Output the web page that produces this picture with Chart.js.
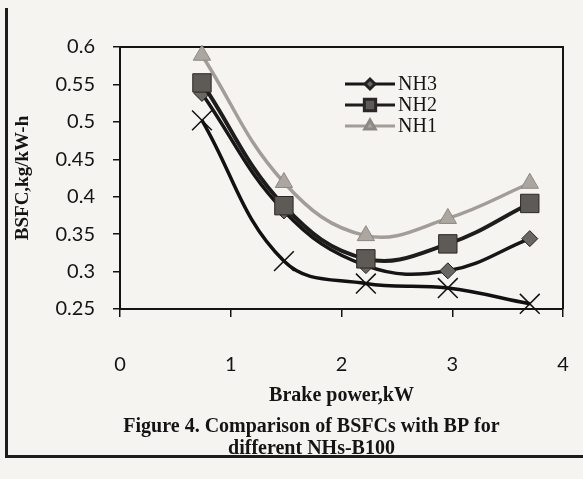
<!DOCTYPE html>
<html>
<head>
<meta charset="utf-8">
<script src="https://cdn.jsdelivr.net/npm/chart.js@4.4.1/dist/chart.umd.min.js"></script>
<style>
  html, body { margin: 0; padding: 0; background: #f6f4f1; overflow: hidden; }
  #wrap { position: relative; width: 583px; height: 479px; }
  #page { position: absolute; left: 5px; top: 8px; width: 600px; height: 447px;
          border-left: 3px solid #1c1c1c; border-bottom: 3px solid #1c1c1c; }
  canvas { position: absolute; left: 0; top: 0; }
</style>
</head>
<body>
<div id="wrap">
  <div id="page"></div>
  <canvas id="chart" width="583" height="479"></canvas>
</div>
<script>
// Brake power (kW) and BSFC (kg/kW-h)
const brakePower = [0.74, 1.48, 2.22, 2.96, 3.7];
const nh3 = [0.538, 0.381, 0.308, 0.301, 0.344];
const nh2 = [0.552, 0.388, 0.317, 0.337, 0.391];
const nh1 = [0.589, 0.419, 0.348, 0.371, 0.418];
const b100 = [0.502, 0.314, 0.284, 0.278, 0.257];

const xTicks = [0, 1, 2, 3, 4];
const yTicks = [0.25, 0.3, 0.35, 0.4, 0.45, 0.5, 0.55, 0.6];

const ink = "#141414";
const serif = "'Liberation Serif', 'DejaVu Serif', serif";

function toPoints(ys) {
  return brakePower.map((x, i) => ({ x: x, y: ys[i] }));
}

// Legend drawn inside the plot, Excel style (line + marker)
const legendOrder = [2, 0, 1]; // NH3, NH2, NH1
const inlineLegend = {
  id: "inlineLegend",
  afterDraw(chart) {
    const { ctx, chartArea } = chart;
    const x0 = chartArea.left + 225;
    const y0 = chartArea.top + 37;
    legendOrder.forEach((idx, i) => {
      const ds = chart.data.datasets[idx];
      const y = y0 + i * 21;
      ctx.save();
      ctx.strokeStyle = ds.borderColor;
      ctx.lineWidth = 3;
      ctx.beginPath();
      ctx.moveTo(x0, y);
      ctx.lineTo(x0 + 50, y);
      ctx.stroke();
      ctx.fillStyle = ds.pointBackgroundColor;
      ctx.strokeStyle = ds.pointBorderColor;
      Chart.helpers.drawPoint(ctx, { pointStyle: ds.pointStyle, radius: ds.legendRadius, borderWidth: 1, rotation: 0 }, x0 + 25, y);
      ctx.fillStyle = ink;
      ctx.font = "20px " + serif;
      ctx.textBaseline = "middle";
      ctx.fillText(ds.label, x0 + 53, y + 1);
      ctx.restore();
    });
  },
};

// Top and right edges of the plot frame
const plotFrame = {
  id: "plotFrame",
  beforeDatasetsDraw(chart) {
    const { ctx, chartArea: a } = chart;
    ctx.save();
    ctx.strokeStyle = ink;
    ctx.lineWidth = 2;
    ctx.beginPath();
    ctx.moveTo(a.left, a.top);
    ctx.lineTo(a.right, a.top);
    ctx.lineTo(a.right, a.bottom);
    ctx.stroke();
    ctx.restore();
  },
};

// The caption sits a little right of the canvas centre
const captionShift = {
  id: "captionShift",
  afterLayout(chart) {
    const t = chart.titleBlock;
    if (t) { t.left += 26; t.right += 26; }
  },
};

Chart.defaults.font.family = "Lato, 'Open Sans', sans-serif";
Chart.defaults.color = ink;

new Chart(document.getElementById("chart"), {
  type: "line",
  data: {
    datasets: [
      {
        label: "NH2",
        data: toPoints(nh2),
        borderColor: "#1e1d1c",
        borderWidth: 4,
        pointStyle: "rect",
        pointRadius: 13,
        pointBackgroundColor: "#5e5a55",
        pointBorderColor: "#2a2826",
        pointBorderWidth: 1,
        legendRadius: 8,
      },
      {
        label: "NH1",
        data: toPoints(nh1),
        borderColor: "#a29d98",
        borderWidth: 3.5,
        pointStyle: "triangle",
        pointRadius: 10,
        pointBackgroundColor: "#aba6a0",
        pointBorderColor: "#8d8882",
        pointBorderWidth: 1,
        legendRadius: 6,
      },
      {
        label: "NH3",
        data: toPoints(nh3),
        borderColor: "#161616",
        borderWidth: 3.5,
        pointStyle: "rectRot",
        pointRadius: 8,
        pointBackgroundColor: "#6a6662",
        pointBorderColor: "#222222",
        pointBorderWidth: 1,
        legendRadius: 5,
      },
      {
        label: "B100",
        data: toPoints(b100),
        borderColor: "#111111",
        borderWidth: 3.5,
        pointStyle: "crossRot",
        pointRadius: 14,
        pointBackgroundColor: "#111111",
        pointBorderColor: "#111111",
        pointBorderWidth: 1.5,
        legendRadius: 6,
      },
    ],
  },
  options: {
    responsive: false,
    animation: false,
    layout: { padding: { left: 8, top: 47, right: 20, bottom: 11 } },
    elements: {
      line: { tension: 0.4 },
    },
    datasets: { line: { clip: false } },
    plugins: {
      legend: { display: false },
      tooltip: { enabled: false },
      title: {
        display: true,
        position: "bottom",
        text: ["Figure 4. Comparison of BSFCs with BP for", "different NHs-B100"],
        color: ink,
        font: { family: serif, size: 20, weight: "bold", lineHeight: 1.1 },
        padding: { top: 4, bottom: 8 },
      },
    },
    scales: {
      x: {
        type: "linear",
        min: 0,
        max: 4,
        afterBuildTicks: (scale) => { scale.ticks = xTicks.map((v) => ({ value: v })); },
        afterFit: (scale) => {
          scale.height = 103;
          // the big label gap should not eat into the plot width
          scale.paddingLeft = 6;
          scale.paddingRight = 6;
        },
        border: { color: ink, width: 2 },
        grid: { drawOnChartArea: false, drawTicks: true, tickLength: 8, color: ink, lineWidth: 1.5 },
        ticks: { padding: 36, font: { size: 20 }, color: ink, maxRotation: 0 },
        title: {
          display: true,
          text: "Brake power,kW",
          color: ink,
          font: { family: serif, size: 20, weight: "bold" },
          padding: { top: 7, bottom: 4 },
        },
      },
      y: {
        min: 0.25,
        max: 0.6,
        afterBuildTicks: (scale) => { scale.ticks = yTicks.map((v) => ({ value: v })); },
        afterFit: (scale) => { scale.width = 112; },
        border: { color: ink, width: 2 },
        grid: { drawOnChartArea: false, drawTicks: true, tickLength: 7, color: ink, lineWidth: 1.5 },
        ticks: {
          padding: 18,
          font: { size: 20 },
          color: ink,
          callback: (v) => String(+Number(v).toFixed(2)),
        },
        title: {
          display: true,
          text: "BSFC,kg/kW-h",
          color: ink,
          font: { family: serif, size: 19, weight: "bold" },
          padding: { top: 4, bottom: 0 },
        },
      },
    },
  },
  plugins: [inlineLegend, plotFrame, captionShift],
});
</script>
</body>
</html>
